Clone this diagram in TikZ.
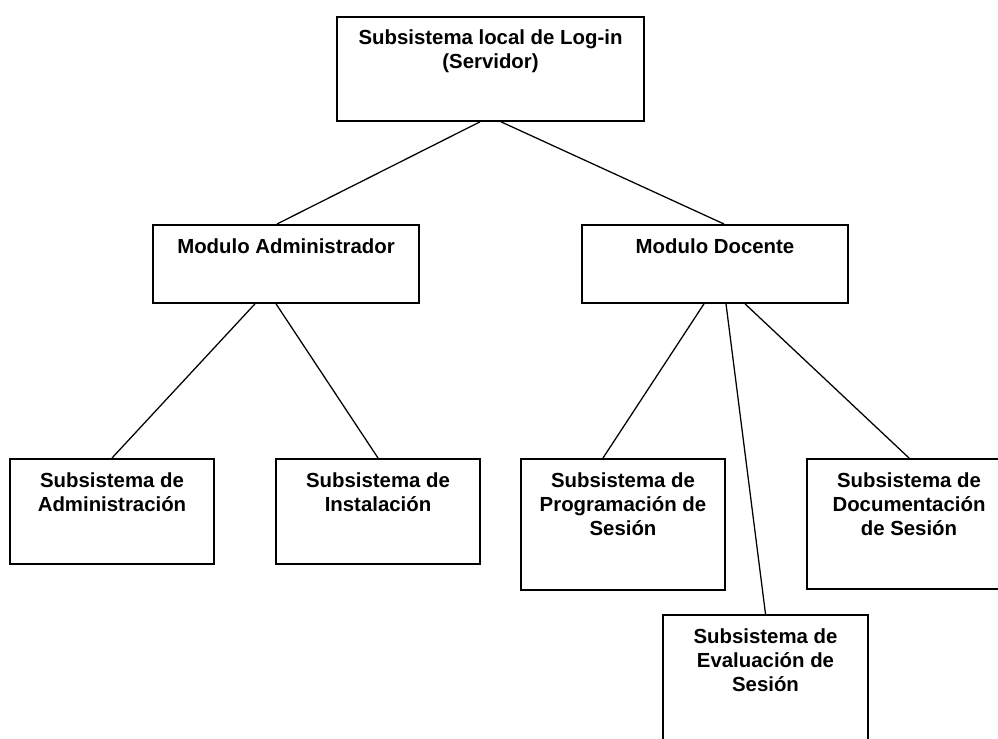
\documentclass[tikz,border=0pt]{standalone}
\usepackage{fontspec}
\setmainfont{Liberation Sans}
\usepackage{tikz}
\usetikzlibrary{positioning}

\begin{document}
\begin{tikzpicture}[
    caja/.style={
        rectangle,
        draw=black,
        line width=1.3pt,
        anchor=north,
        minimum width=5.1cm,
        minimum height=2.625cm,
        inner sep=0pt
    },
    rotulo/.style={
        align=center,
        inner sep=0pt,
        font=\bfseries\fontsize{14.5}{17.1}\selectfont
    },
    linea/.style={line width=0.9pt,black}
]
    \useasboundingbox (0,0) rectangle (24.95,-18.45);
    \clip (0,0) rectangle (24.95,-18.45);

    % Servidor
    \node[caja, minimum width=7.675cm, minimum height=2.6cm] (servidor) at (12.2625,-0.4) {};
    \node[rotulo, below=0.33cm of servidor.north] (tservidor) {Subsistema local de Log-in\\(Servidor)};

    % Modulos
    \node[caja, minimum width=6.65cm, minimum height=1.95cm] (modadmin) at (7.15,-5.6) {};
    \node[caja, minimum width=6.65cm, minimum height=1.95cm] (moddoc) at (17.875,-5.6) {};
    \node[rotulo, below=0.36cm of modadmin.north] (tmodadmin) {Modulo Administrador};
    \node[rotulo, below=0.36cm of moddoc.north] (tmoddoc) {Modulo Docente};

    % Subsistemas
    \node[caja] (admin) at (2.8,-11.45) {};
    \node[caja] (instal) at (9.45,-11.45) {};
    \node[caja, minimum height=3.275cm] (prog) at (15.575,-11.45) {};
    \node[caja, minimum height=3.25cm] (docum) at (22.725,-11.45) {};
    \node[caja, minimum width=5.125cm, minimum height=3.275cm] (evalu) at (19.1375,-15.35) {};

    \node[rotulo, below=0.37cm of admin.north] (tadmin) {Subsistema de\\Administración};
    \node[rotulo, below=0.37cm of instal.north] (tinstal) {Subsistema de\\Instalación};
    \node[rotulo, below=0.37cm of prog.north] (tprog) {Subsistema de\\Programación de\\Sesión};
    \node[rotulo, below=0.37cm of docum.north] (tdocum) {Subsistema de\\Documentación\\de Sesión};
    \node[rotulo, below=0.37cm of evalu.north] (tevalu) {Subsistema de\\Evaluación de\\Sesión};

    % Lineas
    \draw[linea] ([xshift=-0.2625cm]servidor.south) -- ([xshift=-0.225cm]modadmin.north);
    \draw[linea] ([xshift=0.2625cm]servidor.south) -- ([xshift=0.225cm]moddoc.north);
    \draw[linea] ([xshift=-0.775cm]modadmin.south) -- (admin.north);
    \draw[linea] ([xshift=-0.25cm]modadmin.south) -- (instal.north);
    \draw[linea] ([xshift=-0.275cm]moddoc.south) -- ([xshift=-0.5cm]prog.north);
    \draw[linea] ([xshift=0.275cm]moddoc.south) -- (evalu.north);
    \draw[linea] ([xshift=0.75cm]moddoc.south) -- (docum.north);
\end{tikzpicture}
\end{document}
